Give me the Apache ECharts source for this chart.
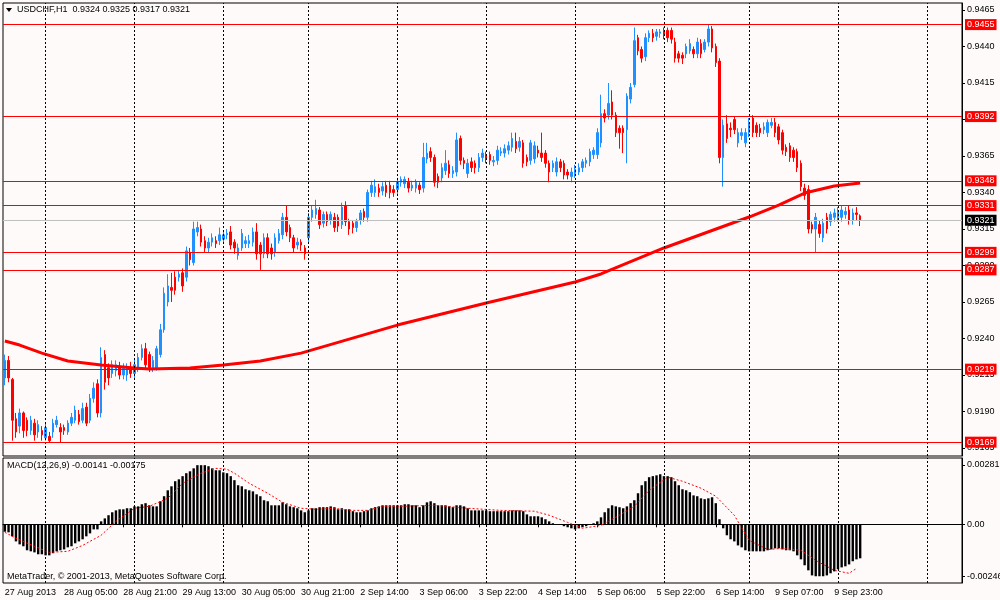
<!DOCTYPE html>
<html>
<head>
<meta charset="utf-8">
<title>USDCHF,H1</title>
<script src="https://cdn.jsdelivr.net/npm/echarts@6/dist/echarts.min.js"></script>
<style>
  html, body { margin: 0; padding: 0; background: #fffafa; }
  #main { width: 1000px; height: 600px; }
</style>
</head>
<body>
<div id="main"></div>
<script type="text/javascript">
// USDCHF H1 bars, 27 Aug 2013 13:00 .. 10 Sep 2013 06:00
var opens = [
  0.9213,0.9225,0.9212,0.9185,0.9180,0.9189,0.9184,0.9177,0.9182,0.9176,
  0.9177,0.9172,0.9173,0.9176,0.9181,0.9179,0.9179,0.9176,0.9182,0.9184,
  0.9188,0.9184,0.9193,0.9184,0.9199,0.9209,0.9189,0.9229,0.9220,0.9216,
  0.9218,0.9220,0.9215,0.9215,0.9220,0.9216,0.9220,0.9227,0.9233,0.9229,
  0.9220,0.9220,0.9229,0.9246,0.9265,0.9275,0.9282,0.9282,0.9285,0.9282,
  0.9299,0.9292,0.9313,0.9315,0.9307,0.9302,0.9306,0.9307,0.9307,0.9308,
  0.9311,0.9313,0.9306,0.9297,0.9302,0.9305,0.9305,0.9306,0.9313,0.9304,
  0.9298,0.9309,0.9302,0.9299,0.9307,0.9311,0.9323,0.9316,0.9309,0.9304,
  0.9306,0.9302,0.9309,0.9323,0.9325,0.9328,0.9319,0.9325,0.9321,0.9323,
  0.9323,0.9318,0.9331,0.9320,0.9319,0.9316,0.9321,0.9327,0.9323,0.9340,
  0.9340,0.9343,0.9341,0.9345,0.9345,0.9342,0.9342,0.9347,0.9346,0.9347,
  0.9343,0.9343,0.9345,0.9343,0.9363,0.9368,0.9364,0.9351,0.9350,0.9355,
  0.9359,0.9353,0.9354,0.9377,0.9362,0.9353,0.9361,0.9360,0.9357,0.9364,
  0.9366,0.9366,0.9361,0.9362,0.9367,0.9367,0.9369,0.9371,0.9375,0.9371,
  0.9374,0.9364,0.9362,0.9363,0.9369,0.9367,0.9367,0.9360,0.9357,0.9354,
  0.9361,0.9360,0.9354,0.9351,0.9353,0.9354,0.9357,0.9360,0.9361,0.9366,
  0.9366,0.9374,0.9394,0.9393,0.9402,0.9393,0.9384,0.9384,0.9383,0.9404,
  0.9414,0.9446,0.9438,0.9433,0.9446,0.9449,0.9447,0.9449,0.9451,0.9451,
  0.9451,0.9443,0.9435,0.9434,0.9435,0.9437,0.9438,0.9435,0.9442,0.9438,
  0.9443,0.9452,0.9440,0.9430,0.9364,0.9387,0.9384,0.9390,0.9374,0.9379,
  0.9374,0.9381,0.9391,0.9386,0.9384,0.9383,0.9381,0.9386,0.9388,0.9385,
  0.9381,0.9371,0.9372,0.9369,0.9368,0.9360,0.9343,0.9342,0.9318,0.9315,
  0.9318,0.9309,0.9323,0.9320,0.9323,0.9323,0.9323,0.9325,0.9328,0.9321,
  0.9326,0.9324
];
var closes = [
  0.9225,0.9213,0.9184,0.9176,0.9189,0.9177,0.9177,0.9184,0.9174,0.9181,
  0.9174,0.9179,0.9170,0.9182,0.9184,0.9176,0.9177,0.9182,0.9186,0.9191,
  0.9183,0.9192,0.9182,0.9199,0.9206,0.9189,0.9227,0.9210,0.9213,0.9222,
  0.9222,0.9215,0.9220,0.9220,0.9216,0.9222,0.9227,0.9233,0.9222,0.9220,
  0.9225,0.9233,0.9246,0.9271,0.9276,0.9273,0.9273,0.9284,0.9276,0.9300,
  0.9294,0.9315,0.9316,0.9306,0.9302,0.9306,0.9309,0.9305,0.9311,0.9311,
  0.9312,0.9304,0.9302,0.9302,0.9312,0.9307,0.9307,0.9313,0.9298,0.9298,
  0.9309,0.9298,0.9298,0.9309,0.9312,0.9323,0.9313,0.9309,0.9302,0.9306,
  0.9304,0.9298,0.9323,0.9328,0.9329,0.9318,0.9325,0.9320,0.9325,0.9316,
  0.9317,0.9330,0.9320,0.9315,0.9316,0.9320,0.9326,0.9323,0.9340,0.9345,
  0.9344,0.9340,0.9344,0.9340,0.9340,0.9340,0.9347,0.9349,0.9349,0.9343,
  0.9345,0.9347,0.9342,0.9364,0.9367,0.9364,0.9347,0.9347,0.9357,0.9360,
  0.9353,0.9355,0.9376,0.9362,0.9360,0.9360,0.9357,0.9357,0.9364,0.9367,
  0.9363,0.9362,0.9362,0.9369,0.9368,0.9370,0.9372,0.9377,0.9370,0.9375,
  0.9360,0.9361,0.9374,0.9372,0.9367,0.9364,0.9360,0.9354,0.9360,0.9361,
  0.9357,0.9352,0.9352,0.9354,0.9356,0.9357,0.9361,0.9362,0.9368,0.9369,
  0.9381,0.9394,0.9391,0.9401,0.9393,0.9381,0.9381,0.9381,0.9406,0.9412,
  0.9444,0.9437,0.9432,0.9446,0.9449,0.9446,0.9450,0.9450,0.9448,0.9446,
  0.9445,0.9432,0.9432,0.9432,0.9440,0.9442,0.9435,0.9443,0.9435,0.9443,
  0.9452,0.9439,0.9429,0.9364,0.9386,0.9377,0.9383,0.9383,0.9381,0.9381,
  0.9381,0.9388,0.9381,0.9381,0.9381,0.9385,0.9388,0.9388,0.9381,0.9376,
  0.9369,0.9368,0.9364,0.9364,0.9357,0.9344,0.9338,0.9315,0.9315,0.9323,
  0.9312,0.9319,0.9315,0.9325,0.9326,0.9327,0.9328,0.9327,0.9321,0.9326,
  0.9325,0.9321
];
var lows = [
  0.9208,0.9210,0.9170,0.9172,0.9175,0.9172,0.9173,0.9174,0.9170,0.9172,
  0.9170,0.9170,0.9169,0.9172,0.9179,0.9169,0.9174,0.9174,0.9180,0.9182,
  0.9181,0.9182,0.9180,0.9182,0.9196,0.9186,0.9186,0.9205,0.9208,0.9213,
  0.9214,0.9212,0.9212,0.9211,0.9213,0.9213,0.9217,0.9225,0.9219,0.9217,
  0.9217,0.9218,0.9227,0.9244,0.9262,0.9265,0.9270,0.9279,0.9272,0.9279,
  0.9290,0.9290,0.9310,0.9303,0.9299,0.9299,0.9303,0.9302,0.9304,0.9305,
  0.9308,0.9301,0.9298,0.9294,0.9300,0.9302,0.9302,0.9303,0.9294,0.9287,
  0.9295,0.9295,0.9294,0.9296,0.9305,0.9308,0.9310,0.9306,0.9299,0.9301,
  0.9300,0.9294,0.9306,0.9320,0.9322,0.9315,0.9316,0.9317,0.9318,0.9313,
  0.9313,0.9315,0.9317,0.9311,0.9312,0.9313,0.9318,0.9320,0.9320,0.9337,
  0.9337,0.9337,0.9338,0.9337,0.9336,0.9337,0.9339,0.9344,0.9343,0.9340,
  0.9341,0.9340,0.9339,0.9340,0.9360,0.9361,0.9344,0.9343,0.9347,0.9352,
  0.9350,0.9350,0.9351,0.9359,0.9356,0.9350,0.9354,0.9353,0.9354,0.9361,
  0.9360,0.9359,0.9358,0.9359,0.9365,0.9364,0.9366,0.9368,0.9367,0.9368,
  0.9357,0.9358,0.9359,0.9360,0.9364,0.9361,0.9357,0.9347,0.9354,0.9351,
  0.9354,0.9349,0.9349,0.9347,0.9350,0.9352,0.9354,0.9357,0.9358,0.9363,
  0.9363,0.9371,0.9388,0.9390,0.9390,0.9378,0.9370,0.9367,0.9360,0.9401,
  0.9412,0.9434,0.9429,0.9430,0.9443,0.9443,0.9444,0.9446,0.9445,0.9443,
  0.9442,0.9429,0.9429,0.9428,0.9432,0.9435,0.9432,0.9432,0.9432,0.9436,
  0.9440,0.9436,0.9426,0.9360,0.9344,0.9374,0.9378,0.9380,0.9371,0.9376,
  0.9371,0.9378,0.9378,0.9378,0.9378,0.9380,0.9378,0.9384,0.9378,0.9373,
  0.9366,0.9365,0.9361,0.9361,0.9354,0.9341,0.9335,0.9312,0.9312,0.9299,
  0.9309,0.9306,0.9312,0.9317,0.9320,0.9320,0.9320,0.9322,0.9318,0.9318,
  0.9321,0.9317
];
var highs = [
  0.9229,0.9228,0.9213,0.9189,0.9192,0.9190,0.9186,0.9187,0.9185,0.9184,
  0.9180,0.9182,0.9176,0.9185,0.9187,0.9182,0.9181,0.9184,0.9189,0.9194,
  0.9191,0.9196,0.9196,0.9202,0.9210,0.9212,0.9234,0.9232,0.9223,0.9225,
  0.9225,0.9224,0.9223,0.9223,0.9224,0.9226,0.9230,0.9236,0.9237,0.9231,
  0.9228,0.9235,0.9250,0.9275,0.9284,0.9285,0.9286,0.9287,0.9288,0.9303,
  0.9302,0.9320,0.9320,0.9318,0.9310,0.9309,0.9312,0.9310,0.9316,0.9314,
  0.9315,0.9317,0.9308,0.9305,0.9315,0.9310,0.9311,0.9316,0.9319,0.9306,
  0.9312,0.9312,0.9305,0.9312,0.9315,0.9326,0.9331,0.9318,0.9311,0.9309,
  0.9308,0.9304,0.9326,0.9331,0.9335,0.9330,0.9327,0.9327,0.9327,0.9326,
  0.9325,0.9333,0.9334,0.9322,0.9321,0.9322,0.9328,0.9329,0.9342,0.9348,
  0.9349,0.9346,0.9347,0.9348,0.9348,0.9345,0.9350,0.9351,0.9351,0.9350,
  0.9348,0.9349,0.9347,0.9374,0.9374,0.9371,0.9366,0.9353,0.9360,0.9369,
  0.9362,0.9358,0.9381,0.9379,0.9364,0.9363,0.9364,0.9362,0.9367,0.9370,
  0.9368,0.9368,0.9365,0.9372,0.9371,0.9373,0.9375,0.9381,0.9381,0.9378,
  0.9376,0.9366,0.9376,0.9375,0.9372,0.9381,0.9369,0.9362,0.9362,0.9364,
  0.9363,0.9362,0.9356,0.9357,0.9359,0.9360,0.9363,0.9364,0.9370,0.9371,
  0.9384,0.9407,0.9397,0.9415,0.9410,0.9395,0.9386,0.9386,0.9408,0.9415,
  0.9453,0.9448,0.9440,0.9449,0.9451,0.9452,0.9452,0.9452,0.9453,0.9453,
  0.9453,0.9446,0.9437,0.9436,0.9442,0.9445,0.9440,0.9446,0.9445,0.9445,
  0.9455,0.9454,0.9442,0.9432,0.9390,0.9393,0.9388,0.9392,0.9384,0.9384,
  0.9384,0.9391,0.9393,0.9388,0.9387,0.9388,0.9390,0.9391,0.9391,0.9387,
  0.9383,0.9373,0.9374,0.9371,0.9370,0.9362,0.9346,0.9345,0.9320,0.9326,
  0.9321,0.9322,0.9326,0.9327,0.9329,0.9330,0.9331,0.9330,0.9331,0.9329,
  0.9330,0.9325
];

// moving average as [bar, price]
var maLine = [
  [0,0.92383],[4,0.92355],[10,0.92300],[17,0.92246],[26,0.92218],[35,0.92198],
  [39,0.92191],[50,0.92198],[59,0.92218],[69,0.92246],[80,0.92300],[106,0.92492],
  [130,0.92643],[154,0.92787],[161,0.92842],[178,0.93020],[201,0.93232],
  [209,0.93314],[216,0.93396],[224,0.93444],[231,0.93465]
];

// MACD(12,26,9) main histogram, in units of 0.00001
var macdMain = [
  -35,-38,-57,-81,-95,-104,-123,-128,-133,-142,
  -142,-147,-147,-137,-128,-123,-119,-109,-104,-90,
  -81,-71,-57,-43,-24,-24,14,28,43,57,
  66,71,71,76,76,85,85,95,100,90,
  85,85,109,133,161,180,204,213,228,242,
  251,265,280,280,280,275,265,256,256,246,
  242,228,209,185,180,166,161,156,142,133,
  114,109,90,90,90,104,95,85,81,76,
  66,57,66,76,76,81,81,81,85,81,
  71,76,71,71,62,57,57,62,66,76,
  81,85,90,90,90,90,90,90,95,95,
  90,90,81,90,104,109,100,90,90,90,
  85,81,90,90,85,76,66,66,66,66,
  66,62,62,62,62,62,62,66,66,66,
  62,47,38,38,38,33,24,14,5,1,
  -3,-9,-14,-19,-24,-19,-14,-9,-3,5,
  14,33,57,76,90,85,81,76,85,100,
  114,147,185,204,223,228,232,237,228,228,
  223,204,185,166,161,152,137,133,123,119,
  123,128,100,24,-19,-52,-71,-81,-100,-109,
  -123,-128,-128,-128,-128,-128,-123,-119,-114,-114,
  -119,-123,-123,-128,-147,-166,-194,-218,-242,-246,
  -246,-246,-242,-232,-223,-213,-204,-199,-190,-175,
  -166,-161
];
// MACD signal line, [bar, value in 0.00001]
var macdSignal = [
  [0,-38],[3,-66],[8,-104],[12,-133],[17,-128],[21,-100],[26,-52],[30,14],
  [35,76],[39,85],[44,123],[48,194],[53,242],[57,265],[60,261],[62,242],
  [66,194],[71,147],[75,104],[80,76],[84,71],[89,76],[93,66],[98,66],
  [102,85],[107,85],[116,90],[125,76],[134,66],[143,62],[147,43],[152,9],
  [156,-19],[161,-5],[165,33],[170,85],[174,161],[179,223],[183,204],[188,171],
  [192,133],[197,43],[201,-76],[206,-119],[210,-114],[215,-123],[219,-171],
  [224,-218],[228,-232],[230,-209]
];

var levels = [0.9455, 0.9392, 0.9348, 0.9331, 0.9299, 0.9287, 0.9219, 0.9169];
var bid = 0.9321;

var priceTicks = [0.9165,0.9190,0.9215,0.9240,0.9265,0.9290,0.9315,0.9340,0.9365,0.9390,0.9415,0.9440,0.9465];
var macdTicks = [0.00281, 0, -0.00246];

var tickLabels = ['27 Aug 2013','28 Aug 05:00','28 Aug 21:00','29 Aug 13:00','30 Aug 05:00',
  '30 Aug 21:00','2 Sep 14:00','3 Sep 06:00','3 Sep 22:00','4 Sep 14:00','5 Sep 06:00',
  '5 Sep 22:00','6 Sep 14:00','9 Sep 07:00','9 Sep 23:00'];
var labelStep = 16;
var dayStarts = [11,35,59,82,106,130,154,178,201,225,249];   // first bar of each day
var slotCount = 259;                                        // bars plus empty space on the right

var FONT = 'Tahoma, "Liberation Sans", Arial, sans-serif';

var categories = [];
for (var k = 0; k < slotCount; k++) categories.push(String(k));

function showTick(index) {
    return index % labelStep === 0 && index / labelStep < tickLabels.length;
}

var candles = opens.map(function (o, i) { return [o, closes[i], lows[i], highs[i]]; });

var dayLineStyle = { color: '#000', width: 1, type: [2, 2] };
function dayLines() {
    return dayStarts.map(function (d) {
        return { xAxis: String(d), lineStyle: dayLineStyle, label: { show: false } };
    });
}

var priceLines = dayLines();
levels.forEach(function (v) {
    priceLines.push({ yAxis: v, lineStyle: { color: '#ff0000', width: 1, type: 'solid' },
        label: { show: true, backgroundColor: '#ff0000' } });
});
priceLines.push({ yAxis: bid, lineStyle: { color: '#c0c0c0', width: 1, type: 'solid' },
    label: { show: true, backgroundColor: '#000000' } });

var myChart = echarts.init(document.getElementById('main'));

var option = {
    animation: false,
    backgroundColor: '#fffafa',
    graphic: [
        { type: 'polygon', z: 100, shape: { points: [[6, 8], [12, 8], [9, 12]] }, style: { fill: '#000' } },
        { type: 'text', z: 100, x: 17, y: 10, style: { text: 'USDCHF,H1  0.9324 0.9325 0.9317 0.9321',
            fill: '#000', font: '9px ' + FONT, verticalAlign: 'middle' } },
        { type: 'text', z: 100, x: 7, y: 466, style: { text: 'MACD(12,26,9) -0.00141 -0.00175',
            fill: '#000', font: '9px ' + FONT, verticalAlign: 'middle' } },
        { type: 'text', z: 100, x: 7, y: 577, style: { text: 'MetaTrader, \u00a9 2001-2013, MetaQuotes Software Corp.',
            fill: '#000', font: '9px ' + FONT, verticalAlign: 'middle' } }
    ],
    grid: [
        { left: 3, right: 38, top: 3, height: 453, show: true, borderColor: '#000', borderWidth: 1,
          backgroundColor: 'transparent', containLabel: false, outerBoundsMode: 'none' },
        { left: 3, right: 38, top: 458, height: 125, show: true, borderColor: '#000', borderWidth: 1,
          backgroundColor: 'transparent', containLabel: false, outerBoundsMode: 'none' }
    ],
    xAxis: [
        { type: 'category', gridIndex: 0, data: categories, boundaryGap: true,
          axisLine: { show: false }, axisTick: { show: false }, axisLabel: { show: false },
          splitLine: { show: false } },
        { type: 'category', gridIndex: 1, data: categories, boundaryGap: true,
          axisLine: { show: true, lineStyle: { color: '#000' } },
          axisTick: { show: true, interval: showTick, alignWithLabel: true, length: 3, lineStyle: { color: '#000' } },
          axisLabel: { interval: showTick, align: 'left', margin: 5, color: '#000', fontSize: 9, fontFamily: FONT,
              formatter: function (value, index) { return tickLabels[index / labelStep] || ''; } },
          splitLine: { show: false } }
    ],
    yAxis: [
        { type: 'value', gridIndex: 0, position: 'right', min: 0.915952, max: 0.946979,
          axisLine: { show: true, lineStyle: { color: '#000' } },
          axisTick: { show: true, customValues: priceTicks, length: 3, lineStyle: { color: '#000' } },
          axisLabel: { customValues: priceTicks, margin: 5, color: '#000', fontSize: 9, fontFamily: FONT,
              formatter: function (v) { return v.toFixed(4); } },
          splitLine: { show: false } },
        { type: 'value', gridIndex: 1, position: 'right', min: -0.00278, max: 0.00314,
          axisLine: { show: true, lineStyle: { color: '#000' } },
          axisTick: { show: true, customValues: macdTicks, length: 3, lineStyle: { color: '#000' } },
          axisLabel: { customValues: macdTicks, margin: 5, color: '#000', fontSize: 9, fontFamily: FONT,
              formatter: function (v) { return v === 0 ? '0.00' : v.toFixed(5); } },
          splitLine: { show: false } }
    ],
    series: [
        {
            name: 'USDCHF,H1',
            type: 'candlestick',
            xAxisIndex: 0, yAxisIndex: 0,
            data: candles,
            barWidth: 2,
            itemStyle: { color: '#1e90ff', color0: '#ff0000', borderColor: '#1e90ff', borderColor0: '#ff0000', borderWidth: 1 },
            markLine: {
                silent: true, animation: false, symbol: ['none', 'none'], precision: 4,
                label: { position: 'end', distance: 3, color: '#fff', fontSize: 9, fontFamily: FONT,
                    padding: [1, 2, 0, 2], lineHeight: 10,
                    formatter: function (p) { return Number(p.value).toFixed(4); } },
                data: priceLines
            }
        },
        {
            name: 'MA',
            type: 'line',
            xAxisIndex: 0, yAxisIndex: 0,
            data: maLine,
            showSymbol: false,
            z: 3,
            lineStyle: { color: '#ff0000', width: 3 }
        },
        {
            name: 'MACD',
            type: 'bar',
            xAxisIndex: 1, yAxisIndex: 1,
            data: macdMain.map(function (v) { return v / 100000; }),
            barWidth: 2.4,
            itemStyle: { color: '#000' },
            markLine: { silent: true, animation: false, symbol: ['none', 'none'], data: dayLines() }
        },
        {
            name: 'Signal',
            type: 'line',
            xAxisIndex: 1, yAxisIndex: 1,
            data: macdSignal.map(function (p) { return [p[0], p[1] / 100000]; }),
            showSymbol: false,
            lineStyle: { color: '#ff0000', width: 1, type: [2, 2] }
        }
    ]
};

myChart.setOption(option);
</script>
</body>
</html>
